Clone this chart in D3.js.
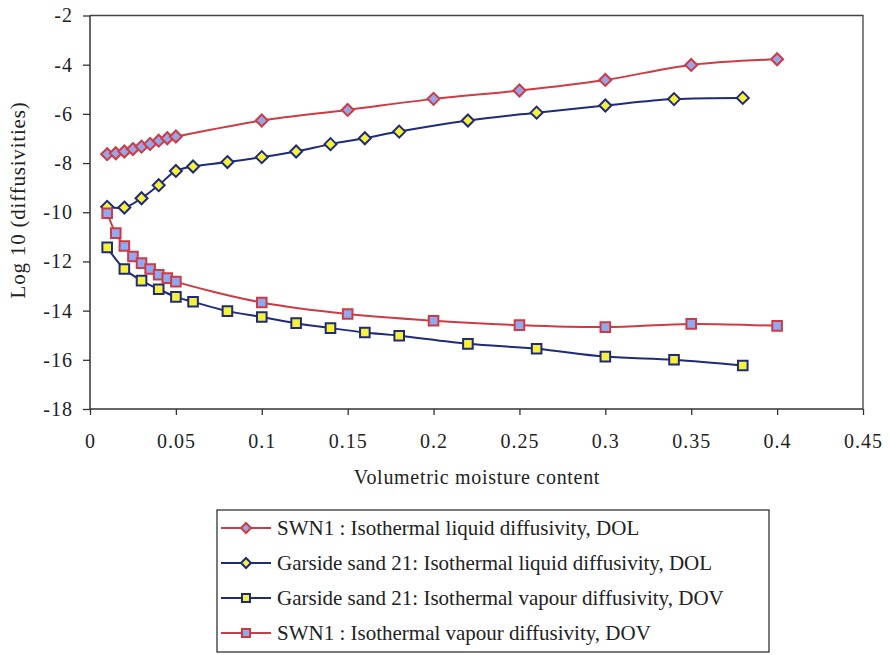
<!DOCTYPE html>
<html>
<head>
<meta charset="utf-8">
<script src="https://cdn.jsdelivr.net/npm/d3@7"></script>
<style>
  body { margin: 0; background: #fff; }
  svg text { font-family: "Liberation Serif", "Times New Roman", serif; fill: #222; }
</style>
</head>
<body>
<div id="chart"></div>
<script>
// Volumetric moisture content (x) and log10 diffusivity (y) for each series
const swnLiquidX = [0.01, 0.015, 0.02, 0.025, 0.03, 0.035, 0.04, 0.045, 0.05, 0.1, 0.15, 0.2, 0.25, 0.3, 0.35, 0.4];
const swnLiquidY = [-7.64, -7.60, -7.53, -7.43, -7.33, -7.22, -7.09, -6.99, -6.92, -6.27, -5.84, -5.39, -5.05, -4.62, -4.01, -3.78];

const garsideLiquidX = [0.01, 0.02, 0.03, 0.04, 0.05, 0.06, 0.08, 0.1, 0.12, 0.14, 0.16, 0.18, 0.22, 0.26, 0.3, 0.34, 0.38];
const garsideLiquidY = [-9.78, -9.81, -9.43, -8.90, -8.32, -8.14, -7.96, -7.76, -7.53, -7.23, -6.99, -6.72, -6.27, -5.95, -5.66, -5.40, -5.35];

const garsideVapourX = [0.01, 0.02, 0.03, 0.04, 0.05, 0.06, 0.08, 0.1, 0.12, 0.14, 0.16, 0.18, 0.22, 0.26, 0.3, 0.34, 0.38];
const garsideVapourY = [-11.43, -12.31, -12.78, -13.13, -13.44, -13.64, -14.02, -14.26, -14.51, -14.71, -14.89, -15.02, -15.35, -15.55, -15.87, -16.00, -16.23];

const swnVapourX = [0.01, 0.015, 0.02, 0.025, 0.03, 0.035, 0.04, 0.045, 0.05, 0.1, 0.15, 0.2, 0.25, 0.3, 0.35, 0.4];
const swnVapourY = [-10.04, -10.85, -11.37, -11.80, -12.07, -12.31, -12.54, -12.68, -12.82, -13.67, -14.14, -14.41, -14.59, -14.67, -14.54, -14.62];

const xTicks = [0, 0.05, 0.1, 0.15, 0.2, 0.25, 0.3, 0.35, 0.4, 0.45];
const yTicks = [-2, -4, -6, -8, -10, -12, -14, -16, -18];

const seriesNames = [
    "SWN1 : Isothermal liquid diffusivity, DOL",
    "Garside sand 21: Isothermal liquid diffusivity, DOL",
    "Garside sand 21: Isothermal vapour diffusivity, DOV",
    "SWN1 : Isothermal vapour diffusivity, DOV"
];

const red = "#cf3a44";
const navy = "#1f2a7c";

const series = [
    { name: seriesNames[0], xs: swnLiquidX, ys: swnLiquidY, line: red, shape: "diamond", fill: "#98a6e4" },
    { name: seriesNames[1], xs: garsideLiquidX, ys: garsideLiquidY, line: navy, shape: "diamond", fill: "#f6f23a" },
    { name: seriesNames[2], xs: garsideVapourX, ys: garsideVapourY, line: navy, shape: "square", fill: "#f6f23a" },
    { name: seriesNames[3], xs: swnVapourX, ys: swnVapourY, line: red, shape: "square", fill: "#8eaaf0" }
];

const width = 889, height = 655;
const margin = { left: 90, right: 26, top: 15.5, bottom: 246 };
const innerWidth = width - margin.left - margin.right;
const innerHeight = height - margin.top - margin.bottom;

const svg = d3.select("#chart")
    .append("svg")
    .attr("width", width)
    .attr("height", height);

const inner = svg.append("g")
    .attr("transform", `translate(${margin.left},${margin.top})`);

const xScale = d3.scaleLinear().domain([0, 0.45]).range([0, innerWidth]);
const yScale = d3.scaleLinear().domain([-18, -2]).range([innerHeight, 0]);

// plot area border (top and right)
inner.append("path")
    .attr("d", `M0,0H${innerWidth}V${innerHeight}`)
    .attr("fill", "none")
    .attr("stroke", "#444")
    .attr("stroke-width", 1.3);

// axes (plain hyphen for negatives, as in the original)
const xAxis = inner.append("g")
    .attr("transform", `translate(0,${innerHeight})`)
    .call(d3.axisBottom(xScale).tickValues(xTicks).tickSize(6).tickPadding(19).tickFormat(d => String(d)));

const yAxis = inner.append("g")
    .call(d3.axisLeft(yScale).tickValues(yTicks).tickSize(7).tickPadding(10).tickFormat(d => String(d)));

[xAxis, yAxis].forEach(ax => {
    ax.select(".domain").attr("stroke", "#333").attr("stroke-width", 1.5);
    ax.selectAll(".tick line").attr("stroke", "#333").attr("stroke-width", 1.3);
    ax.selectAll(".tick text")
        .style("font-family", '"Liberation Serif", "Times New Roman", serif')
        .style("font-size", "20px")
        .style("letter-spacing", "1px")
        .attr("fill", "#222");
});
xAxis.select(".domain").attr("d", `M0,0H${innerWidth}`);
yAxis.select(".domain").attr("d", `M0,0V${innerHeight}`);

// axis titles
svg.append("text")
    .text("Volumetric moisture content")
    .attr("text-anchor", "middle")
    .attr("x", 477)
    .attr("y", 484)
    .style("font-size", "20px")
    .style("letter-spacing", "0.7px");

svg.append("text")
    .text("Log 10 (diffusivities)")
    .attr("text-anchor", "middle")
    .attr("transform", "rotate(-90)")
    .attr("x", -200)
    .attr("y", 25)
    .style("font-size", "21px")
    .style("letter-spacing", "0.8px");

// markers
const markerPath = (shape, s) => shape === "diamond"
    ? `M0,${-s}L${s},0L0,${s}L${-s},0Z`
    : `M${-s * 0.8},${-s * 0.8}H${s * 0.8}V${s * 0.8}H${-s * 0.8}Z`;

const line = d3.line()
    .x(d => xScale(d[0]))
    .y(d => yScale(d[1]))
    .curve(d3.curveCatmullRom.alpha(0.5));

series.forEach(s => {
    const pts = s.xs.map((x, i) => [x, s.ys[i]]);
    inner.append("path")
        .datum(pts)
        .attr("d", line)
        .attr("fill", "none")
        .attr("stroke", s.line)
        .attr("stroke-width", 2);
});

series.forEach(s => {
    const pts = s.xs.map((x, i) => [x, s.ys[i]]);
    inner.append("g")
        .selectAll("path")
        .data(pts)
        .join("path")
        .attr("transform", d => `translate(${xScale(d[0])},${yScale(d[1])})`)
        .attr("d", markerPath(s.shape, 6))
        .attr("fill", s.fill)
        .attr("stroke", s.line)
        .attr("stroke-width", 2);
});

// legend
const legend = svg.append("g")
    .attr("transform", "translate(217,510)");

legend.append("rect")
    .attr("width", 552)
    .attr("height", 142)
    .attr("fill", "#fff")
    .attr("stroke", "#333")
    .attr("stroke-width", 1.3);

series.forEach((s, i) => {
    const g = legend.append("g").attr("transform", `translate(0,${18 + i * 35})`);
    g.append("line")
        .attr("x1", 4).attr("x2", 54)
        .attr("stroke", s.line)
        .attr("stroke-width", 2);
    g.append("path")
        .attr("transform", "translate(29,0)")
        .attr("d", markerPath(s.shape, 5))
        .attr("fill", s.fill)
        .attr("stroke", s.line)
        .attr("stroke-width", 2);
    g.append("text")
        .attr("x", 60)
        .attr("y", 7)
        .text(s.name)
        .style("font-size", "21px");
});
</script>
</body>
</html>
